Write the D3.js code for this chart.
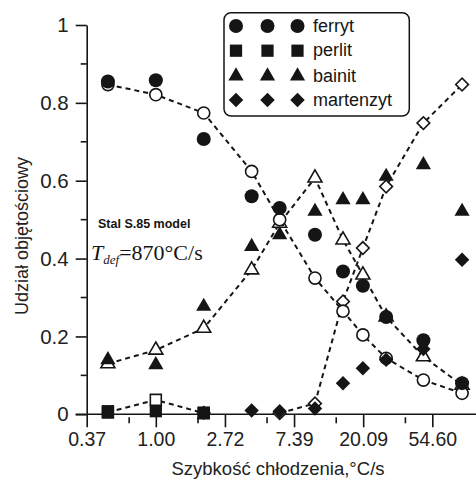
<!DOCTYPE html>
<html><head><meta charset="utf-8">
<script src="https://cdn.jsdelivr.net/npm/d3@7/dist/d3.min.js"></script>
<style>body{margin:0;background:#fff}svg{display:block}</style>
</head><body>
<svg id="c" width="476" height="480"></svg>
<script>
// ---- data ----
const xVals = [0.5, 1, 2, 4, 6, 10, 15, 20, 28, 48, 84];
const ferrytExp   = [0.855, 0.858, 0.707, 0.56, 0.53, 0.461, 0.367, 0.33, 0.25, 0.19, 0.08];
const ferrytModel = [0.847, 0.821, 0.774, 0.624, 0.50, 0.35, 0.265, 0.204, 0.144, 0.088, 0.054];
const bainitExp   = [0.14, 0.127, 0.277, 0.431, 0.461, 0.521, 0.551, 0.551, 0.611, 0.641, 0.521];
const bainitModel = [0.13, 0.165, 0.221, 0.371, 0.491, 0.607, 0.448, 0.358, 0.25, 0.148, 0.075];
const perlitX     = [0.5, 1, 2];
const perlitExp   = [0.008, 0.008, 0.004];
const perlitModel = [0.005, 0.037, 0.003];
const martenX     = [2, 4, 6, 10, 15, 20, 28, 48, 84];
const martenExp   = [0.004, 0.01, 0.008, 0.015, 0.08, 0.118, 0.14, 0.168, 0.397];
const martenModelX= [6, 10, 15, 20, 28, 48, 84];
const martenModel = [0.003, 0.028, 0.29, 0.427, 0.585, 0.748, 0.847];
const xTickValues = [Math.exp(-1), 1, Math.E, Math.exp(2), Math.exp(3), Math.exp(4)];
const xTickLabels = ["0.37", "1.00", "2.72", "7.39", "20.09", "54.60"];
const xMinorTicks = [0.68, 1.84, 5, 13.6, 37];
const yTicks = [0, 0.2, 0.4, 0.6, 0.8, 1];
const yTickLabels = ["0", "0.2", "0.4", "0.6", "0.8", "1"];
const yMinorTicks = [0.1, 0.3, 0.5, 0.7, 0.9];
const legendNames = ["ferryt", "perlit", "bainit", "martenzyt"];

// ---- layout ----
const svg = d3.select("#c");
const X0 = 86.7, Y0 = 414.3, YTOP = 25;
const x = d3.scaleLog().base(Math.E).domain([Math.exp(-1), Math.exp(4)]).range([X0, 432.3]);
const y = d3.scaleLinear().domain([0, 1]).range([Y0, YTOP]);
const ink = "#151515";
const sans = "Liberation Sans, Arial, sans-serif";

// axes
const gx = svg.append("g").attr("transform", `translate(0,${Y0})`);
gx.call(d3.axisBottom(x).tickValues(xTickValues).tickFormat((d, i) => xTickLabels[i]).tickSize(13).tickSizeOuter(0).tickPadding(5));
gx.select(".domain").remove();
gx.append("line").attr("x1", X0 - 11).attr("x2", 476).attr("stroke", ink).attr("stroke-width", 1.6);
gx.selectAll(".tick line").attr("stroke", ink).attr("stroke-width", 1.6);
gx.selectAll(".tick text").attr("font-family", sans).attr("font-size", 19.5).attr("fill", "#222");
gx.selectAll(".minor").data(xMinorTicks).enter().append("line")
  .attr("x1", d => x(d)).attr("x2", d => x(d)).attr("y1", 3).attr("y2", 9)
  .attr("stroke", ink).attr("stroke-width", 1.6);

const gy = svg.append("g").attr("transform", `translate(${X0},0)`);
gy.call(d3.axisLeft(y).tickValues(yTicks).tickFormat((d, i) => yTickLabels[i]).tickSize(11).tickSizeOuter(0).tickPadding(7));
gy.select(".domain").attr("stroke", ink).attr("stroke-width", 1.6);
gy.selectAll(".tick line").attr("stroke", ink).attr("stroke-width", 1.6);
gy.selectAll(".tick text").attr("font-family", sans).attr("font-size", 20.5).attr("fill", "#222");
gy.selectAll(".minor").data(yMinorTicks).enter().append("line")
  .attr("x1", -6).attr("x2", 0).attr("y1", d => y(d)).attr("y2", d => y(d))
  .attr("stroke", ink).attr("stroke-width", 1.6);

// titles
svg.append("text").attr("x", 278).attr("y", 475).attr("text-anchor", "middle")
  .attr("font-family", sans).attr("font-size", 18.5).attr("fill", "#222").text("Szybkość chłodzenia,°C/s");
svg.append("text").attr("transform", "translate(28,236) rotate(-90)").attr("text-anchor", "middle")
  .attr("font-family", sans).attr("font-size", 18).attr("fill", "#222").text("Udział objętościowy");

// annotations
svg.append("text").attr("x", 98).attr("y", 228).attr("font-family", sans).attr("font-weight", "bold")
  .attr("font-size", 12.5).attr("fill", ink).text("Stal S.85 model");
const t = svg.append("text").attr("x", 91).attr("y", 260).attr("font-family", "Liberation Serif, Times New Roman, serif")
  .attr("font-size", 22).attr("fill", ink);
t.append("tspan").attr("font-style", "italic").text("T");
t.append("tspan").attr("font-style", "italic").attr("font-size", 13).attr("dy", 4).text("def");
t.append("tspan").attr("dy", -4).text("=870°C/s");

// symbols
const shapes = {
  circle: d3.symbol().type(d3.symbolCircle).size(155),
  square: d3.symbol().type(d3.symbolSquare).size(150),
  triangle: d3.symbol().type(d3.symbolTriangle).size(100),
  diamond: d3.symbol().type(d3.symbolSquare).size(105)
};
const openShapes = {
  circle: d3.symbol().type(d3.symbolCircle).size(115),
  square: d3.symbol().type(d3.symbolSquare).size(120),
  triangle: d3.symbol().type(d3.symbolTriangle).size(85),
  diamond: d3.symbol().type(d3.symbolSquare).size(80)
};
const rot = s => s === "diamond" ? " rotate(45)" : "";

function modelSeries(xs, ys, shape) {
  const pts = xs.map((v, i) => [v, ys[i]]);
  svg.append("path").datum(pts)
    .attr("d", d3.line().x(d => x(d[0])).y(d => y(d[1])))
    .attr("fill", "none").attr("stroke", ink).attr("stroke-width", 2).attr("stroke-dasharray", "5,4");
  svg.append("g").selectAll("path").data(pts).enter().append("path")
    .attr("d", openShapes[shape]())
    .attr("transform", d => `translate(${x(d[0])},${y(d[1])})${rot(shape)}`)
    .attr("fill", "#fff").attr("stroke", ink).attr("stroke-width", 1.6);
}
function expSeries(xs, ys, shape) {
  svg.append("g").selectAll("path").data(xs.map((v, i) => [v, ys[i]])).enter().append("path")
    .attr("d", shapes[shape]())
    .attr("transform", d => `translate(${x(d[0])},${y(d[1])})${rot(shape)}`)
    .attr("fill", ink);
}

modelSeries(perlitX, perlitModel, "square");
modelSeries(martenModelX, martenModel, "diamond");
modelSeries(xVals, bainitModel, "triangle");
modelSeries(xVals, ferrytModel, "circle");
expSeries(perlitX, perlitExp, "square");
expSeries(martenX, martenExp, "diamond");
expSeries(xVals, bainitExp, "triangle");
expSeries(xVals, ferrytExp, "circle");

// legend
svg.append("rect").attr("x", 224).attr("y", 12.7).attr("width", 185.3).attr("height", 103.3).attr("rx", 7)
  .attr("fill", "#fff").attr("stroke", ink).attr("stroke-width", 1.5);
const legShapes = ["circle", "square", "triangle", "diamond"];
const rowY = [26, 50.7, 76, 100];
const colX = [236, 267.5, 297.5];
legendNames.forEach((name, i) => {
  colX.forEach(cx => {
    svg.append("path").attr("d", shapes[legShapes[i]]())
      .attr("transform", `translate(${cx},${rowY[i]})${rot(legShapes[i])}`).attr("fill", ink);
  });
  svg.append("text").attr("x", 313).attr("y", rowY[i] + 5.5).attr("font-family", sans)
    .attr("font-size", 18).attr("fill", ink).text(name);
});
</script>
</body></html>
